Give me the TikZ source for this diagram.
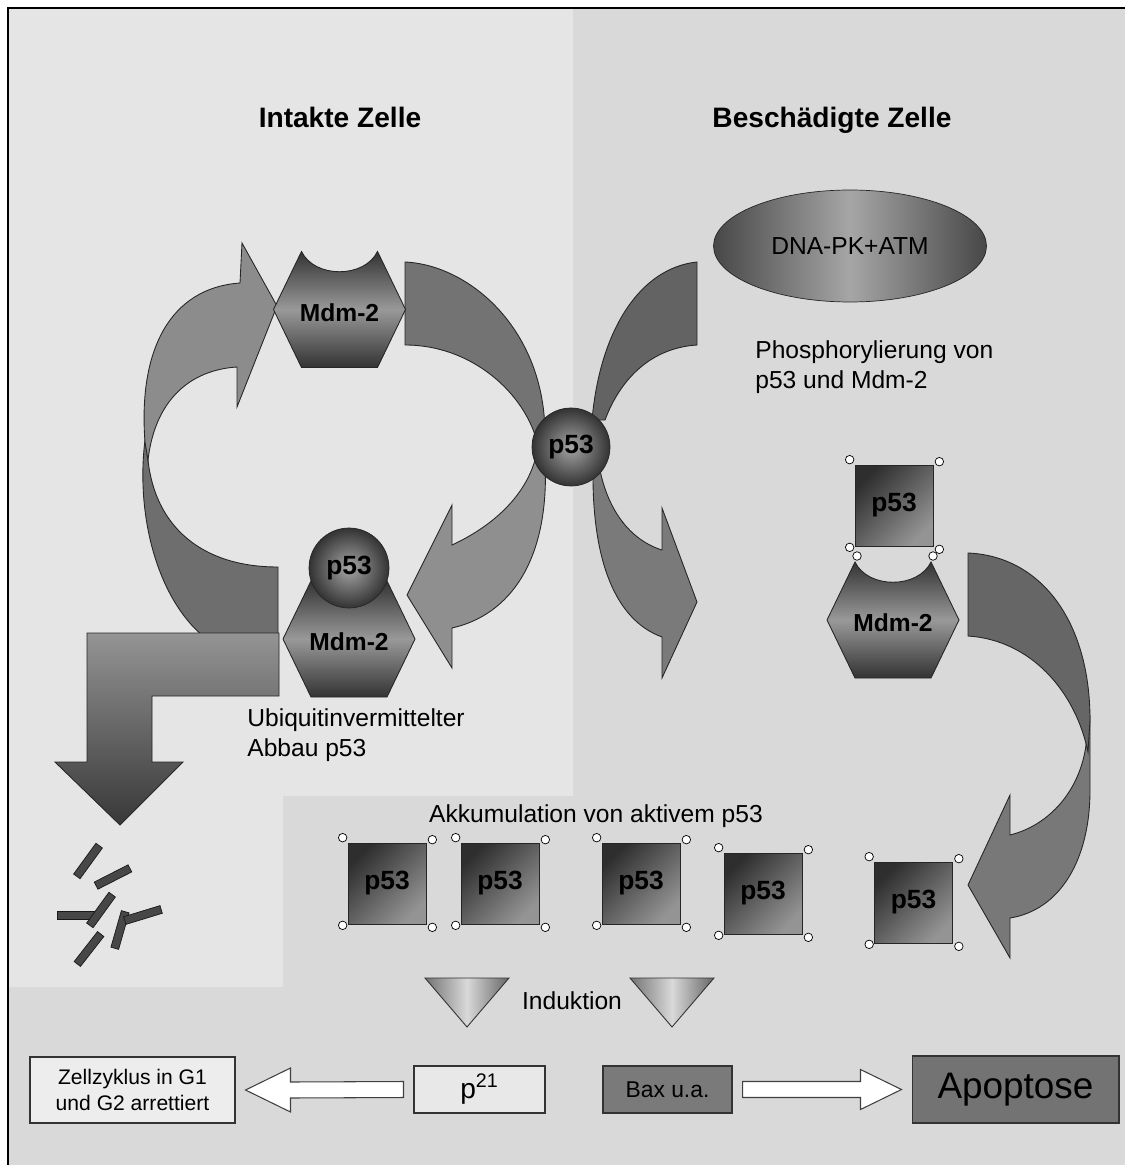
\documentclass[tikz,border=0pt]{standalone}
\usepackage{fontspec}
\setmainfont{Liberation Sans}
\usetikzlibrary{shapes.geometric}
\usetikzlibrary{calc}

\definecolor{bglight}{HTML}{E5E5E5}
\definecolor{bgdark}{HTML}{D9D9D9}

\begin{document}
\begin{tikzpicture}[x=0.02cm, y=-0.02cm,
  arrowpart/.style={draw=black!85, line width=0.5pt},
  hexshade/.style={draw=black!85, line width=0.5pt, top color=black!80, bottom color=black!80, middle color=black!40},
  hexlabel/.style={font=\fontsize{14}{16}\selectfont\bfseries},
  p53ball/.style={circle, draw=black!85, inner sep=0pt, inner color=black!35, outer color=black!80, font=\fontsize{15}{17}\selectfont\bfseries},
  sq/.style={rectangle, draw=black!85, minimum width=1.56cm, minimum height=1.62cm, left color=black!82, right color=black!42, shading angle=45, font=\fontsize{15}{17}\selectfont\bfseries},
  handle/.style={draw=black, fill=white, line width=0.4pt},
  heading/.style={font=\fontsize{16}{19}\selectfont\bfseries, anchor=base},
  txt/.style={font=\fontsize{14}{17}\selectfont, align=left, inner sep=0pt},
  fragment/.style={rectangle, draw=black!90, fill=black!72, minimum width=0.76cm, minimum height=0.16cm, inner sep=0pt},
  box/.style={rectangle, draw=black!80, line width=0.6pt},
  hollow/.style={draw=black!75, fill=white, line width=0.6pt}]

        % Background of both cells
        \useasboundingbox (0,0) rectangle (1125,1165);
        \fill[bgdark] (8,8) rectangle (1125,1165);
        \fill[bglight] (8,8) -- (573,8) -- (573,796) -- (283,796) -- (283,987) -- (8,987) -- cycle;
        \draw[line width=1.2pt] (1125,8) -- (8,8) -- (8,1165);

        % Cycle in the intact cell
        \filldraw[arrowpart, fill=black!57] (145,440) .. controls (135,520) and (160,610) .. (215,645) -- (278,645) -- (278,567) .. controls (200,567) and (155,525) .. (148,460) -- cycle;
        \filldraw[arrowpart, fill=black!45] (145,442) .. controls (138,350) and (170,288) .. (240,283) -- (242,243) -- (277,306) -- (237,407) -- (237,367) .. controls (190,370) and (155,400) .. (148,460) -- cycle;
        \filldraw[arrowpart, fill=black!55] (405,262) .. controls (470,265) and (545,330) .. (545,435) -- (535,435) .. controls (520,390) and (470,345) .. (405,345) -- cycle;
        \filldraw[arrowpart, fill=black!44] (545,460) .. controls (550,560) and (510,615) .. (452,628) -- (452,668) -- (407,595) -- (452,505) -- (452,545) .. controls (495,525) and (525,495) .. (535,460) -- cycle;

        % Arrows of the damaged cell
        \filldraw[arrowpart, fill=black!61] (697,262) .. controls (640,268) and (600,330) .. (592,420) -- (605,420) .. controls (620,380) and (650,348) .. (697,345) -- cycle;
        \filldraw[arrowpart, fill=black!52] (593,470) .. controls (592,560) and (615,620) .. (662,637) -- (662,678) -- (697,602) -- (662,508) -- (662,550) .. controls (630,540) and (608,510) .. (600,470) -- cycle;
        \filldraw[arrowpart, fill=black!53] (1090,715) -- (1090,790) .. controls (1090,860) and (1060,910) .. (1010,918) -- (1010,958) -- (968,885) -- (1010,795) -- (1010,835) .. controls (1050,825) and (1080,790) .. (1086,745) -- cycle;
        \filldraw[arrowpart, fill=black!60] (968,553) .. controls (1040,556) and (1090,620) .. (1090,720) -- (1088,752) .. controls (1075,690) and (1030,640) .. (968,636) -- cycle;

        % Mdm-2 hexagons
        \foreach \cx/\cy/\nm in {339.5/309.5/mdmA, 349/639/mdmB, 893/620/mdmC}
        {
          \shadedraw[hexshade, shift={(\cx,\cy)}] (-66,0) -- (-38,-58) .. controls (-25,-31) and (25,-31) .. (38,-58) -- (66,0) -- (38,58) -- (-38,58) -- cycle;
          \node[hexlabel] (\nm) at (\cx,\cy+3) {Mdm-2};
        }

        % Degradation arrow
        \shadedraw[draw=black!85, line width=0.5pt, top color=black!42, bottom color=black!78] (279,633) -- (87,633) -- (87,762) -- (55,762) -- (120,825) -- (183,762) -- (152,762) -- (152,696) -- (279,696) -- cycle;

        \node[p53ball, minimum size=1.6cm] (p53B) at (349,568) {p53};
        \node[p53ball, minimum size=1.56cm] (p53A) at (571,447) {p53};

        \node[ellipse, draw=black!85, minimum width=5.46cm, minimum height=2.24cm, left color=black!72, right color=black!72, middle color=black!35, font=\fontsize{14}{16}\selectfont] (dnapk) at (850,246) {DNA-PK+ATM};

        \node[heading] (intakt) at (340,128) {Intakte Zelle};
        \node[heading] (beschaedigt) at (832,128) {Beschädigte Zelle};

        \node[txt, anchor=west] (phos) at (755,367) {Phosphorylierung von\\p53 und Mdm-2};
        \node[txt, anchor=west] (ubi) at (247,735) {Ubiquitinvermittelter\\Abbau p53};
        \node[txt] (akku) at (596,816) {Akkumulation von aktivem p53};
        \node[txt] (induktion) at (572,1001) {Induktion};

        % Active p53
        \node[sq] (sqTop) at (894,505.5) {p53};
        \foreach \x/\y/\nm in {387/883.5/sq1, 500/883.5/sq2, 641/883.5/sq3, 763/893.5/sq4, 913.5/902.5/sq5}
        {
          \node[sq] (\nm) at (\x,\y) {p53};
        }
        \foreach \nm in {sqTop, sq1, sq2, sq3, sq4, sq5}
          \foreach \a/\dx/\dy in {north west/-5/-5, north east/6/-3, south west/-5/1, south east/6/3}
            \draw[handle] ([shift={(\dx,\dy)}]\nm.\a) circle[radius=0.085cm];
        \draw[handle] (857,556) circle[radius=0.085cm];
        \draw[handle] (933,556) circle[radius=0.085cm];

        % Fragments
        \foreach \x/\y/\a [count=\i] in {88/861/54, 113/877/27, 76/915/0, 101/910/54, 120/930/74, 143/915/17, 89/949/52}
          \node[fragment, rotate=\a] (frag\i) at (\x,\y) {};

        % Induction
        \foreach \lx in {425, 630}
          \shadedraw[draw=black!80, line width=0.5pt, left color=black!55, right color=black!60, middle color=black!15] (\lx,978) -- (\lx+84,978) -- (\lx+42,1027) -- cycle;

        \node[box, fill=black!7, minimum width=4.1cm, minimum height=1.32cm, align=center, font=\fontsize{12}{14.5}\selectfont] (zell) at (132.5,1090) {Zellzyklus in G1\\und G2 arrettiert};
        \node[box, fill=black!9, minimum width=2.62cm, minimum height=0.94cm, font=\fontsize{16}{18}\selectfont] (p21) at (479.5,1089.5) {p\textsuperscript{21}};
        \node[box, fill=black!52, minimum width=2.58cm, minimum height=0.94cm, font=\fontsize{13}{15}\selectfont] (bax) at (667.5,1089.5) {Bax u.a.};
        \node[box, fill=black!55, minimum width=4.14cm, minimum height=1.34cm, font=\fontsize{21}{24}\selectfont] (apop) at (1015.5,1089.5) {Apoptose};

        \draw[hollow] ($(p21.west)+(-10,-8)$) -- ($(zell.east)+(55,-8)$) -- ($(zell.east)+(55,-22)$) -- ($(zell.east)+(10,0)$) -- ($(zell.east)+(55,22)$) -- ($(zell.east)+(55,8)$) -- ($(p21.west)+(-10,8)$) -- cycle;
        \draw[hollow] ($(bax.east)+(10,-8)$) -- ($(apop.west)+(-51,-8)$) -- ($(apop.west)+(-51,-20)$) -- ($(apop.west)+(-10,0)$) -- ($(apop.west)+(-51,20)$) -- ($(apop.west)+(-51,8)$) -- ($(bax.east)+(10,8)$) -- cycle;
      \end{tikzpicture}
\end{document}
